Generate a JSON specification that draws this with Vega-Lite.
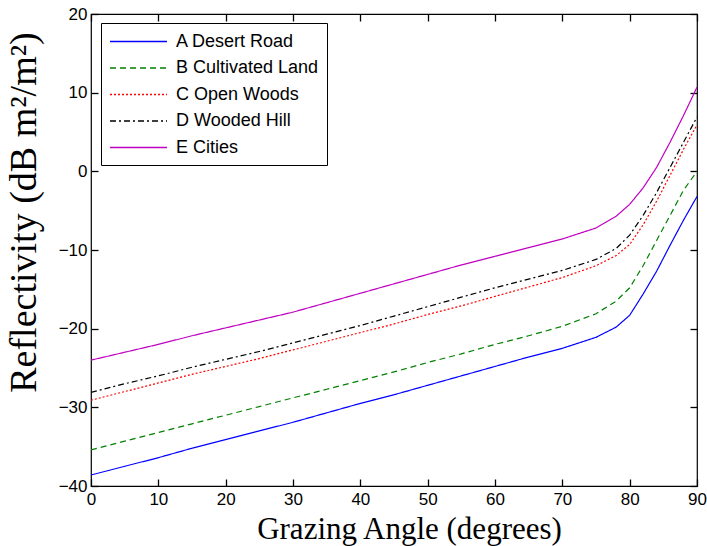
{
  "$schema": "https://vega.github.io/schema/vega-lite/v6.json",
  "width": 606,
  "height": 472,
  "autosize": "none",
  "padding": {"left": 91, "top": 14, "right": 10, "bottom": 60},
  "background": "white",
  "config": {
    "view": {"stroke": "black", "strokeWidth": 1.2},
    "axis": {
      "grid": false,
      "domain": false,
      "ticks": true,
      "offset": -7,
      "tickColor": "#000000",
      "tickOpacity": 1,
      "tickSize": 7,
      "tickWidth": 1.3,
      "labelFlush": false,
      "labelOverlap": false,
      "labelColor": "black",
      "labelFont": "Liberation Sans",
      "labelFontSize": 17,
      "titleColor": "black",
      "titleFont": "Liberation Serif",
      "titleFontWeight": "normal"
    },
    "legend": {
      "orient": "none",
      "legendX": 10,
      "legendY": 9,
      "strokeColor": "black",
      "fillColor": "white",
      "padding": 8,
      "cornerRadius": 0,
      "labelFont": "Liberation Sans",
      "labelFontSize": 18,
      "labelColor": "black",
      "symbolType": "M-1,0H5",
      "symbolSize": 361,
      "symbolStrokeWidth": 1.5,
      "rowPadding": 6.5,
      "labelOffset": 46
    }
  },
  "data": {
    "values": [
      {"angle": 0, "refl": -38.6, "series": "A Desert Road"},
      {"angle": 5, "refl": -37.5, "series": "A Desert Road"},
      {"angle": 10, "refl": -36.4, "series": "A Desert Road"},
      {"angle": 15, "refl": -35.2, "series": "A Desert Road"},
      {"angle": 20, "refl": -34.1, "series": "A Desert Road"},
      {"angle": 25, "refl": -33.0, "series": "A Desert Road"},
      {"angle": 30, "refl": -31.9, "series": "A Desert Road"},
      {"angle": 35, "refl": -30.7, "series": "A Desert Road"},
      {"angle": 40, "refl": -29.5, "series": "A Desert Road"},
      {"angle": 45, "refl": -28.4, "series": "A Desert Road"},
      {"angle": 50, "refl": -27.2, "series": "A Desert Road"},
      {"angle": 55, "refl": -26.0, "series": "A Desert Road"},
      {"angle": 60, "refl": -24.8, "series": "A Desert Road"},
      {"angle": 65, "refl": -23.6, "series": "A Desert Road"},
      {"angle": 70, "refl": -22.5, "series": "A Desert Road"},
      {"angle": 75, "refl": -21.1, "series": "A Desert Road"},
      {"angle": 78, "refl": -19.8, "series": "A Desert Road"},
      {"angle": 80, "refl": -18.3, "series": "A Desert Road"},
      {"angle": 82, "refl": -15.6, "series": "A Desert Road"},
      {"angle": 84, "refl": -12.7, "series": "A Desert Road"},
      {"angle": 86, "refl": -9.4, "series": "A Desert Road"},
      {"angle": 88, "refl": -6.2, "series": "A Desert Road"},
      {"angle": 90, "refl": -3.2, "series": "A Desert Road"},
      {"angle": 0, "refl": -35.4, "series": "B Cultivated Land"},
      {"angle": 5, "refl": -34.3, "series": "B Cultivated Land"},
      {"angle": 10, "refl": -33.2, "series": "B Cultivated Land"},
      {"angle": 15, "refl": -32.1, "series": "B Cultivated Land"},
      {"angle": 20, "refl": -31.0, "series": "B Cultivated Land"},
      {"angle": 25, "refl": -29.9, "series": "B Cultivated Land"},
      {"angle": 30, "refl": -28.8, "series": "B Cultivated Land"},
      {"angle": 35, "refl": -27.7, "series": "B Cultivated Land"},
      {"angle": 40, "refl": -26.6, "series": "B Cultivated Land"},
      {"angle": 45, "refl": -25.5, "series": "B Cultivated Land"},
      {"angle": 50, "refl": -24.3, "series": "B Cultivated Land"},
      {"angle": 55, "refl": -23.2, "series": "B Cultivated Land"},
      {"angle": 60, "refl": -22.0, "series": "B Cultivated Land"},
      {"angle": 65, "refl": -20.9, "series": "B Cultivated Land"},
      {"angle": 70, "refl": -19.7, "series": "B Cultivated Land"},
      {"angle": 75, "refl": -18.1, "series": "B Cultivated Land"},
      {"angle": 78, "refl": -16.5, "series": "B Cultivated Land"},
      {"angle": 80, "refl": -14.8, "series": "B Cultivated Land"},
      {"angle": 82, "refl": -12.0, "series": "B Cultivated Land"},
      {"angle": 84, "refl": -8.8, "series": "B Cultivated Land"},
      {"angle": 86, "refl": -5.6, "series": "B Cultivated Land"},
      {"angle": 88, "refl": -2.4, "series": "B Cultivated Land"},
      {"angle": 90, "refl": 0.0, "series": "B Cultivated Land"},
      {"angle": 0, "refl": -29.1, "series": "C Open Woods"},
      {"angle": 5, "refl": -28.0, "series": "C Open Woods"},
      {"angle": 10, "refl": -26.9, "series": "C Open Woods"},
      {"angle": 15, "refl": -25.8, "series": "C Open Woods"},
      {"angle": 20, "refl": -24.8, "series": "C Open Woods"},
      {"angle": 25, "refl": -23.8, "series": "C Open Woods"},
      {"angle": 30, "refl": -22.7, "series": "C Open Woods"},
      {"angle": 35, "refl": -21.6, "series": "C Open Woods"},
      {"angle": 40, "refl": -20.5, "series": "C Open Woods"},
      {"angle": 45, "refl": -19.4, "series": "C Open Woods"},
      {"angle": 50, "refl": -18.2, "series": "C Open Woods"},
      {"angle": 55, "refl": -17.1, "series": "C Open Woods"},
      {"angle": 60, "refl": -15.9, "series": "C Open Woods"},
      {"angle": 65, "refl": -14.7, "series": "C Open Woods"},
      {"angle": 70, "refl": -13.5, "series": "C Open Woods"},
      {"angle": 75, "refl": -12.0, "series": "C Open Woods"},
      {"angle": 78, "refl": -10.7, "series": "C Open Woods"},
      {"angle": 80, "refl": -9.3, "series": "C Open Woods"},
      {"angle": 82, "refl": -6.8, "series": "C Open Woods"},
      {"angle": 84, "refl": -3.8, "series": "C Open Woods"},
      {"angle": 86, "refl": -0.5, "series": "C Open Woods"},
      {"angle": 88, "refl": 2.8, "series": "C Open Woods"},
      {"angle": 90, "refl": 5.9, "series": "C Open Woods"},
      {"angle": 0, "refl": -28.1, "series": "D Wooded Hill"},
      {"angle": 5, "refl": -27.0, "series": "D Wooded Hill"},
      {"angle": 10, "refl": -26.0, "series": "D Wooded Hill"},
      {"angle": 15, "refl": -24.9, "series": "D Wooded Hill"},
      {"angle": 20, "refl": -23.9, "series": "D Wooded Hill"},
      {"angle": 25, "refl": -22.9, "series": "D Wooded Hill"},
      {"angle": 30, "refl": -21.8, "series": "D Wooded Hill"},
      {"angle": 35, "refl": -20.7, "series": "D Wooded Hill"},
      {"angle": 40, "refl": -19.6, "series": "D Wooded Hill"},
      {"angle": 45, "refl": -18.4, "series": "D Wooded Hill"},
      {"angle": 50, "refl": -17.2, "series": "D Wooded Hill"},
      {"angle": 55, "refl": -16.0, "series": "D Wooded Hill"},
      {"angle": 60, "refl": -14.8, "series": "D Wooded Hill"},
      {"angle": 65, "refl": -13.7, "series": "D Wooded Hill"},
      {"angle": 70, "refl": -12.6, "series": "D Wooded Hill"},
      {"angle": 75, "refl": -11.2, "series": "D Wooded Hill"},
      {"angle": 78, "refl": -9.8, "series": "D Wooded Hill"},
      {"angle": 80, "refl": -8.1, "series": "D Wooded Hill"},
      {"angle": 82, "refl": -5.6, "series": "D Wooded Hill"},
      {"angle": 84, "refl": -2.7, "series": "D Wooded Hill"},
      {"angle": 86, "refl": 0.5, "series": "D Wooded Hill"},
      {"angle": 88, "refl": 3.7, "series": "D Wooded Hill"},
      {"angle": 90, "refl": 6.9, "series": "D Wooded Hill"},
      {"angle": 0, "refl": -24.0, "series": "E Cities"},
      {"angle": 5, "refl": -23.0, "series": "E Cities"},
      {"angle": 10, "refl": -22.0, "series": "E Cities"},
      {"angle": 15, "refl": -20.9, "series": "E Cities"},
      {"angle": 20, "refl": -19.9, "series": "E Cities"},
      {"angle": 25, "refl": -18.9, "series": "E Cities"},
      {"angle": 30, "refl": -17.9, "series": "E Cities"},
      {"angle": 35, "refl": -16.7, "series": "E Cities"},
      {"angle": 40, "refl": -15.5, "series": "E Cities"},
      {"angle": 45, "refl": -14.3, "series": "E Cities"},
      {"angle": 50, "refl": -13.1, "series": "E Cities"},
      {"angle": 55, "refl": -11.9, "series": "E Cities"},
      {"angle": 60, "refl": -10.8, "series": "E Cities"},
      {"angle": 65, "refl": -9.7, "series": "E Cities"},
      {"angle": 70, "refl": -8.6, "series": "E Cities"},
      {"angle": 75, "refl": -7.2, "series": "E Cities"},
      {"angle": 78, "refl": -5.7, "series": "E Cities"},
      {"angle": 80, "refl": -4.2, "series": "E Cities"},
      {"angle": 82, "refl": -2.1, "series": "E Cities"},
      {"angle": 84, "refl": 0.5, "series": "E Cities"},
      {"angle": 86, "refl": 3.7, "series": "E Cities"},
      {"angle": 88, "refl": 7.1, "series": "E Cities"},
      {"angle": 90, "refl": 10.7, "series": "E Cities"}
    ]
  },
  "layer": [
    {
      "mark": {"type": "line", "strokeWidth": 1.2},
      "encoding": {
        "x": {
          "field": "angle", "type": "quantitative",
          "scale": {"domain": [0, 90], "nice": false, "zero": false},
          "axis": {
            "values": [0, 10, 20, 30, 40, 50, 60, 70, 80, 90],
            "ticks": true,
            "labelPadding": 5,
            "title": "Grazing Angle (degrees)",
            "titleFontSize": 31,
            "titleX": 318,
            "titleY": 59,
            "titleBaseline": "alphabetic",
            "titleAlign": "center"
          }
        },
        "y": {
          "field": "refl", "type": "quantitative",
          "scale": {"domain": [-40, 20], "nice": false, "zero": false},
          "axis": {
            "values": [-40, -30, -20, -10, 0, 10, 20],
            "ticks": true,
            "labelPadding": 4,
            "title": "Reflectivity (dB m²/m²)",
            "titleFontSize": 38,
            "titleX": -55,
            "titleY": 198,
            "titleAngle": -90,
            "titleBaseline": "bottom",
            "titleAlign": "center"
          }
        },
        "color": {
          "field": "series", "type": "nominal",
          "scale": {
            "domain": ["A Desert Road", "B Cultivated Land", "C Open Woods", "D Wooded Hill", "E Cities"],
            "range": ["#0000ff", "#008000", "#ff0000", "#000000", "#c000c0"]
          },
          "legend": {"title": null}
        },
        "strokeDash": {
          "field": "series", "type": "nominal",
          "scale": {
            "domain": ["A Desert Road", "B Cultivated Land", "C Open Woods", "D Wooded Hill", "E Cities"],
            "range": [[1, 0], [6, 4], [2, 2], [6, 3, 2, 3], [1, 0]]
          },
          "legend": {"title": null}
        }
      }
    },
    {
      "mark": {"type": "line", "opacity": 0},
      "encoding": {
        "x": {
          "field": "angle", "type": "quantitative",
          "scale": {"domain": [0, 90], "nice": false, "zero": false},
          "axis": {"orient": "top", "ticks": true, "labels": false, "title": null, "values": [0, 10, 20, 30, 40, 50, 60, 70, 80, 90]}
        },
        "y": {
          "field": "refl", "type": "quantitative",
          "scale": {"domain": [-40, 20], "nice": false, "zero": false},
          "axis": {"orient": "right", "ticks": true, "labels": false, "title": null, "values": [-40, -30, -20, -10, 0, 10, 20]}
        }
      }
    }
  ],
  "resolve": {"axis": {"x": "independent", "y": "independent"}}
}
